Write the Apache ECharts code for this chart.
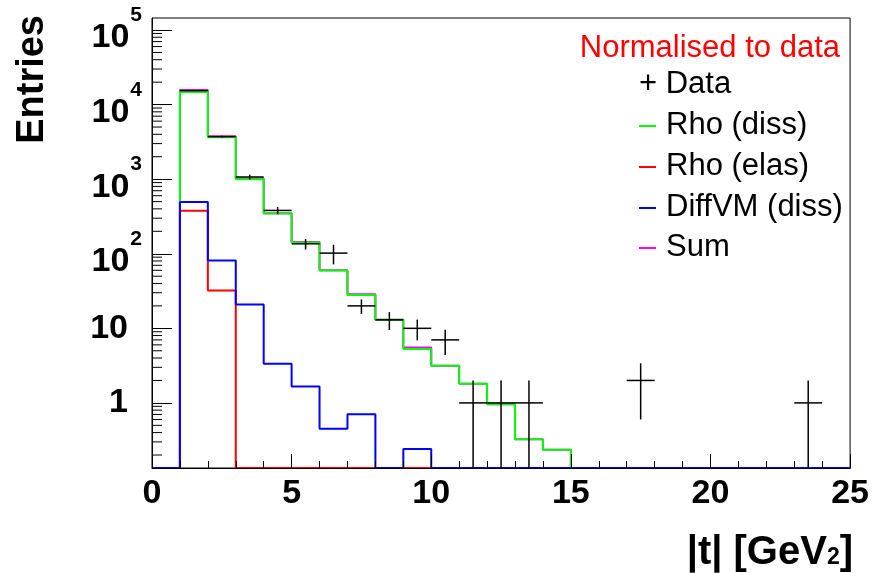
<!DOCTYPE html>
<html>
<head>
<meta charset="utf-8">
<script src="https://cdn.jsdelivr.net/npm/echarts@6/dist/echarts.min.js"></script>
<style>
html,body{margin:0;padding:0;background:#fff;}
#chart{width:872px;height:573px;}
</style>
</head>
<body>
<div id="chart"></div>
<script>
// ---- data ----
const binStart = [0,1,2,3,4,5,6,7,8,9,10,11,12,13,14,15,16,17,18,19,20,21,22,23,24];
const binEnd = 25;
const rhoDiss = [0,14800,3640,1000,347,142,59.7,27.9,13.0,5.3,3.14,1.8,0.96,0.326,0.236,0,0,0,0,0,0,0,0,0,0];
const rhoElas = [0,378,32.2,0,0,0,0,0,0,0,0,0,0,0,0,0,0,0,0,0,0,0,0,0,0];
const diffVM  = [0,494,81.3,20.9,3.34,1.66,0.45,0.705,0,0.24,0,0,0,0,0,0,0,0,0,0,0,0,0,0,0];
const sumHist = [0,15700,3750,1020,350,144,60.2,28.6,13.0,5.55,3.14,1.8,0.96,0.326,0.236,0,0,0,0,0,0,0,0,0,0];
const dataX   = [1.5,2.5,3.5,4.5,5.5,6.5,7.5,8.5,9.5,10.5,11.5,12.5,13.5,17.5,23.5];
const dataY   = [15400,3720,1070,381,136,102,20,13,10,7,1,1,1,2,1];
const dataErr = [300,110,80,42,22,30,4.4,3.5,3.1,2.6,1,1,1,1.4,1];
const xTickLabels = ['0','5','10','15','20','25'];
const yDecades = [1,10,100,1000,10000,100000];
const legendLabels = ['Data','Rho (diss)','Rho (elas)','DiffVM (diss)','Sum'];

const Y_MIN = 0.134, Y_MAX = 1.45e5;
const FONT = '"Liberation Sans", Arial, Helvetica, sans-serif';

function histPoints(vals){
  const pts = [];
  for (let i = 0; i < binStart.length; i++) pts.push([binStart[i], vals[i] > 0 ? vals[i] : Y_MIN]);
  const last = vals[vals.length-1];
  pts.push([binEnd, last > 0 ? last : Y_MIN]);
  return pts;
}
const minorVals = [];
for (let n = -1; n <= 4; n++) for (let k = 2; k <= 9; k++) {
  const v = k * Math.pow(10, n);
  if (v > Y_MIN && v < Y_MAX) minorVals.push([0, v]);
}

function histSeries(name, vals, color){
  return {
    name, type:'line', step:'end', data: histPoints(vals), showSymbol:false, clip:false,
    lineStyle:{color, width:2}, itemStyle:{color}, z: 3
  };
}

const chart = echarts.init(document.getElementById('chart'), null, {renderer:'canvas'});
const option = {
  animation:false,
  backgroundColor:'#fff',
  grid:{left:152, right:20, top:18, bottom:105, show:true, borderColor:'#000', borderWidth:1, containLabel:false},
  xAxis:{
    type:'value', min:0, max:25, interval:5, z:10,
    axisLine:{show:true, lineStyle:{color:'#000', width:1}},
    axisTick:{show:true, inside:true, length:14, lineStyle:{color:'#000'}},
    minorTick:{show:true, splitNumber:5, length:7, lineStyle:{color:'#000'}},
    splitLine:{show:false},
    axisLabel:{
      color:'#000', fontFamily:FONT, fontWeight:'bold', fontSize:34, margin:9,
      formatter:(v)=>{ const i = xTickLabels.indexOf(String(v)); return i>=0 ? xTickLabels[i] : ''; }
    }
  },
  yAxis:{
    type:'log', logBase:10, min:Y_MIN, max:Y_MAX, splitNumber:6, z:10,
    axisLine:{show:true, lineStyle:{color:'#000', width:1}},
    axisTick:{show:true, inside:true, length:20, lineStyle:{color:'#000'}},
    minorTick:{show:false},
    splitLine:{show:false},
    axisLabel:{
      showMinLabel:false, showMaxLabel:false, margin:10,
      formatter:(v)=>{
        const l = Math.log10(v); const e = Math.round(l);
        if (Math.abs(l-e) > 1e-6 || yDecades.indexOf(Math.pow(10,e)) < 0) return '';
        if (e === 0) return '{c|1}{sp|}';
        if (e === 1) return '{c|10}{sp|}';
        return '{h| }{b|10}{e|' + e + '}';
      },
      rich:{
        c:{fontFamily:FONT, fontWeight:'bold', fontSize:34, color:'#000'},
        sp:{width:14},
        h:{fontSize:1, lineHeight:50, width:0},
        b:{fontFamily:FONT, fontWeight:'bold', fontSize:34, lineHeight:40, color:'#000', verticalAlign:'bottom'},
        e:{fontFamily:FONT, fontWeight:'bold', fontSize:21, lineHeight:21, color:'#000', verticalAlign:'top', padding:[0,0,0,1]}
      }
    }
  },
  series:[
    {
      type:'custom', name:'minorTicks', data:minorVals, silent:true, z:5,
      renderItem:(params, api)=>{
        const p = api.coord([0, api.value(1)]);
        return {type:'line', shape:{x1:p[0], y1:p[1], x2:p[0]+10, y2:p[1]}, style:{stroke:'#000', lineWidth:1}};
      }
    },
    histSeries('Sum', sumHist, '#ff00ff'),
    histSeries('Rho (diss)', rhoDiss, '#00ff00'),
    histSeries('Rho (elas)', rhoElas, '#ff0000'),
    histSeries('DiffVM (diss)', diffVM, '#0000ff'),
    {
      type:'custom', name:'Data', z:6,
      data: dataX.map((x,i)=>[x, dataY[i], dataErr[i]]),
      renderItem:(params, api)=>{
        const x = api.value(0), y = api.value(1), e = api.value(2);
        const pL = api.coord([x-0.5, y]), pR = api.coord([x+0.5, y]);
        const lo = Math.max(y-e, Y_MIN);
        const pT = api.coord([x, y+e]), pB = api.coord([x, lo]);
        const st = {stroke:'#000', lineWidth:1.5};
        return {type:'group', children:[
          {type:'line', shape:{x1:pL[0], y1:pL[1], x2:pR[0], y2:pR[1]}, style:st},
          {type:'line', shape:{x1:pT[0], y1:pT[1], x2:pB[0], y2:pB[1]}, style:st}
        ]};
      }
    }
  ],
  graphic:[
    {type:'text', x:33, y:15, rotation:Math.PI/2,
      style:{text:'Entries', font:'bold 38px ' + FONT, fill:'#000', align:'right', verticalAlign:'middle'}},
    {type:'text', x:853, y:553,
      style:{text:'{m||t| [GeV}{s|2}{m|]}', align:'right', verticalAlign:'middle', fill:'#000',
        rich:{
          m:{fontFamily:FONT, fontWeight:'bold', fontSize:40, lineHeight:40, verticalAlign:'bottom', fill:'#000'},
          s:{fontFamily:FONT, fontWeight:'bold', fontSize:23, lineHeight:23, verticalAlign:'bottom', fill:'#000', padding:[0,0,4,0]}
        }}},
    {type:'text', x:840, y:48,
      style:{text:'Normalised to data', font:'31px ' + FONT, fill:'#ff0000', align:'right', verticalAlign:'middle'}},
    {type:'text', x:639, y:84,
      style:{text:'+ ' + legendLabels[0], font:'31px ' + FONT, fill:'#000', align:'left', verticalAlign:'middle'}},
    {type:'line', shape:{x1:639, y1:126, x2:656, y2:126}, style:{stroke:'#00ff00', lineWidth:2}},
    {type:'text', x:666, y:125, style:{text:legendLabels[1], font:'31px ' + FONT, fill:'#000', align:'left', verticalAlign:'middle'}},
    {type:'line', shape:{x1:639, y1:167, x2:656, y2:167}, style:{stroke:'#ff0000', lineWidth:2}},
    {type:'text', x:666, y:166, style:{text:legendLabels[2], font:'31px ' + FONT, fill:'#000', align:'left', verticalAlign:'middle'}},
    {type:'line', shape:{x1:639, y1:208, x2:656, y2:208}, style:{stroke:'#0000ff', lineWidth:2}},
    {type:'text', x:666, y:207, style:{text:legendLabels[3], font:'31px ' + FONT, fill:'#000', align:'left', verticalAlign:'middle'}},
    {type:'line', shape:{x1:639, y1:248, x2:656, y2:248}, style:{stroke:'#ff00ff', lineWidth:2}},
    {type:'text', x:666, y:247, style:{text:legendLabels[4], font:'31px ' + FONT, fill:'#000', align:'left', verticalAlign:'middle'}}
  ]
};
chart.setOption(option);
</script>
</body>
</html>
